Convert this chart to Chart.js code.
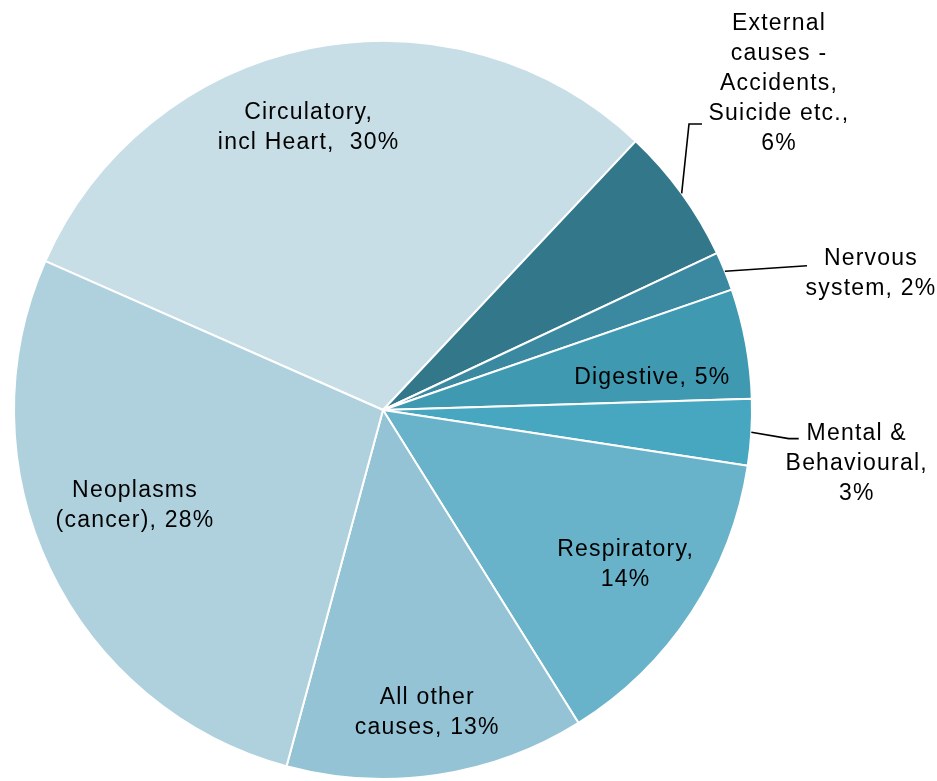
<!DOCTYPE html>
<html>
<head>
<meta charset="utf-8">
<script src="https://cdn.jsdelivr.net/npm/chart.js@4"></script>
<style>
  html, body { margin: 0; padding: 0; background: #fff; }
  #wrap { width: 937px; height: 781px; }
</style>
</head>
<body>
<div id="wrap"><canvas id="pieChart"></canvas></div>
<script>
// Data (share of deaths, %)
const categories = ['Circulatory, incl Heart', 'External causes - Accidents, Suicide etc.', 'Nervous system',
    'Digestive', 'Mental & Behavioural', 'Respiratory', 'All other causes', 'Neoplasms (cancer)'];
const shares = [30.4, 6.0, 1.7, 4.8, 2.9, 13.7, 13.1, 27.4];
const shownPercent = ['30%', '6%', '2%', '5%', '3%', '14%', '13%', '28%'];
const labelLines = [
    ['Circulatory,', 'incl Heart,  ' + shownPercent[0]],
    ['External', 'causes -', 'Accidents,', 'Suicide etc.,', shownPercent[1]],
    ['Nervous', 'system, ' + shownPercent[2]],
    ['Digestive, ' + shownPercent[3]],
    ['Mental &', 'Behavioural,', shownPercent[4]],
    ['Respiratory,', shownPercent[5]],
    ['All other', 'causes, ' + shownPercent[6]],
    ['Neoplasms', '(cancer), ' + shownPercent[7]]
];

const colors = ['#C7DEE6', '#33788A', '#3B89A0', '#3F9AB1', '#47A7C0', '#68B3CA', '#93C3D4', '#AED1DD'];

// label placement: radius factor and angle shift (deg) from slice middle
// leader: pixel offsets from label centre where the leader line goes (outside labels only)
const placement = [
    { f: 0.79, shift: -3.3 },
    { f: 1.39, shift: -3.5, leader: [[-90, 40], [-77, 40]] },
    { f: 1.373, shift: 6.5, leader: [[-64, -8]] },
    { f: 0.735, shift: 3.5 },
    { f: 1.292, shift: 3.0, leader: [[-68, -25], [-58, -25]] },
    { f: 0.78, shift: -0.8 },
    { f: 0.83, shift: 0.1 },
    { f: 0.72, shift: 4.5 }
];

const sliceLabels = {
    id: 'sliceLabels',
    afterDatasetsDraw(chart) {
        const ctx = chart.ctx;
        const arcs = chart.getDatasetMeta(0).data;
        ctx.save();
        ctx.font = '23px "Liberation Sans", Arial, sans-serif';
        ctx.letterSpacing = '1.2px';
        ctx.fillStyle = '#000';
        ctx.textAlign = 'center';
        ctx.textBaseline = 'middle';
        ctx.strokeStyle = '#000';
        ctx.lineWidth = 1.6;
        arcs.forEach((arc, i) => {
            const p = arc.getProps(['x', 'y', 'startAngle', 'endAngle', 'outerRadius'], true);
            const mid = (p.startAngle + p.endAngle) / 2;
            const pl = placement[i];
            const a = mid + pl.shift * Math.PI / 180;
            const lx = p.x + Math.cos(a) * p.outerRadius * pl.f;
            const ly = p.y + Math.sin(a) * p.outerRadius * pl.f;
            if (pl.leader) {
                ctx.beginPath();
                ctx.moveTo(p.x + Math.cos(mid) * p.outerRadius, p.y + Math.sin(mid) * p.outerRadius);
                pl.leader.forEach(o => ctx.lineTo(lx + o[0], ly + o[1]));
                ctx.stroke();
            }
            const lines = labelLines[i];
            const lh = 30;
            lines.forEach((t, k) => {
                ctx.fillText(t, lx, ly + (k - (lines.length - 1) / 2) * lh);
            });
        });
        ctx.restore();
    }
};

const ctxPie = document.getElementById('pieChart').getContext('2d');
new Chart(ctxPie, {
    type: 'pie',
    data: {
        labels: categories,
        datasets: [{
            data: shares,
            backgroundColor: colors,
            borderColor: '#fff',
            borderWidth: 2
        }]
    },
    options: {
        responsive: true,
        maintainAspectRatio: false,
        animation: false,
        rotation: -66.2,
        layout: { padding: { left: 13, right: 184, top: 40, bottom: 1 } },
        plugins: {
            legend: { display: false },
            tooltip: { enabled: false }
        }
    },
    plugins: [sliceLabels]
});
</script>
</body>
</html>
